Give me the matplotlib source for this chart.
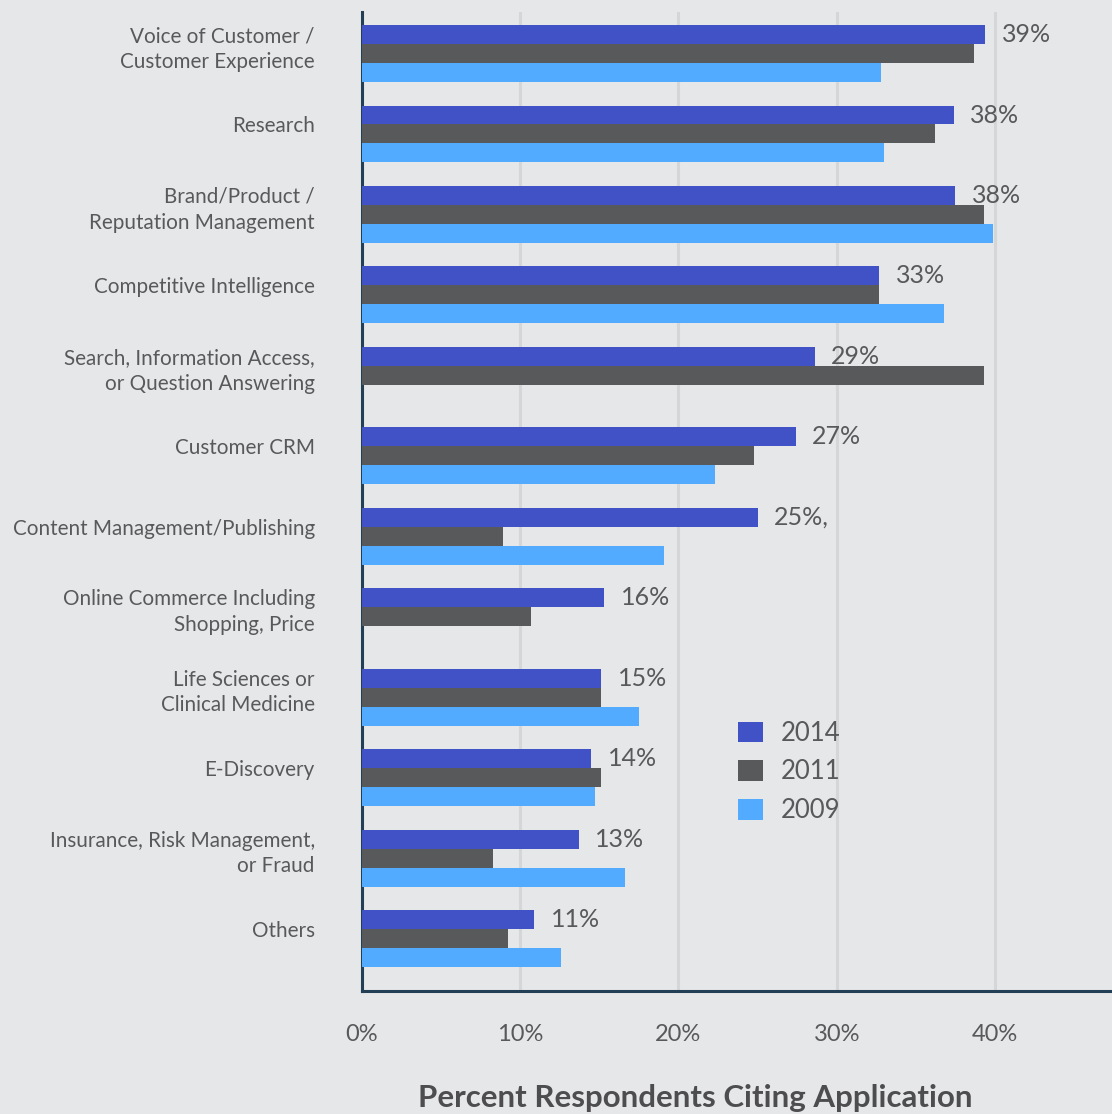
import numpy as np
import matplotlib.pyplot as plt
from matplotlib.patches import Patch

# ---- dados ----
categorias = [
    "Voice of Customer /\nCustomer Experience",
    "Research",
    "Brand/Product /\nReputation Management",
    "Competitive Intelligence",
    "Search, Information Access,\nor Question Answering",
    "Customer CRM",
    "Content Management/Publishing",
    "Online Commerce Including\nShopping, Price",
    "Life Sciences or\nClinical Medicine",
    "E-Discovery",
    "Insurance, Risk Management,\nor Fraud",
    "Others",
]
v2014 = [39.4, 37.4, 37.5, 32.7, 28.6, 27.4, 25.0, 15.3, 15.1, 14.5, 13.7, 10.9]
v2011 = [38.7, 36.2, 39.3, 32.7, 39.3, 24.8, 8.9, 10.7, 15.1, 15.1, 8.3, 9.2]
v2009 = [32.8, 33.0, 39.9, 36.8, np.nan, 22.3, 19.1, np.nan, 17.5, 14.7, 16.6, 12.6]
rotulos = ["39%", "38%", "38%", "33%", "29%", "27%", "25%,", "16%", "15%", "14%", "13%", "11%"]
anos = ["2014", "2011", "2009"]
x_ticks = [0, 10, 20, 30, 40]

# ---- estilo ----
cores = ["#4052C6", "#58595B", "#52ABFE"]
fundo = "#E6E7E9"
texto = "#58595B"
plt.rcParams['font.family'] = ['Lato', 'DejaVu Sans']

W, H = 1112, 1114
fig = plt.figure(figsize=(W / 100, H / 100), dpi=100, facecolor=fundo)
ax = fig.add_axes([362 / W, 1 - 991 / H, 1 - 362 / W, (991 - 12) / H])
ax.set_facecolor(fundo)

y = np.arange(len(categorias))
h = 0.236
for serie, cor, off in zip([v2014, v2011, v2009], cores, [-h, 0, h]):
    ax.barh(y + off, serie, height=h, color=cor, zorder=3)

# rótulos de valor na barra de 2014
for yi, val, txt in zip(y, v2014, rotulos):
    ax.annotate(txt, (val, yi - h), xytext=(12, 0), textcoords='offset points',
                va='center', ha='left', fontsize=18, color=texto)

ax.set_xlim(0, 47.4)
ax.set_ylim(11.65, -0.516)

ax.set_yticks(y - h / 2)
ax.set_yticklabels(categorias, fontsize=14.9, color=texto)
for lbl in ax.get_yticklabels():
    lbl.set_linespacing(1.35)
ax.tick_params(axis='y', length=0, pad=34)

ax.set_xticks(x_ticks)
ax.set_xticklabels([f"{t}%" for t in x_ticks], fontsize=17, color=texto)
ax.tick_params(axis='x', length=0, pad=24)

ax.grid(axis='x', color='#D5D6D8', linewidth=2.2, zorder=0)
for s in ['top', 'right']:
    ax.spines[s].set_visible(False)
for s in ['left', 'bottom']:
    ax.spines[s].set_color('#233F55')
    ax.spines[s].set_linewidth(2.2)

handles = [Patch(facecolor=c, edgecolor='none') for c in cores]
ax.legend(handles, anos, loc='upper left', bbox_to_anchor=(725 / W, 1 - 708 / H),
          bbox_transform=fig.transFigure, frameon=False, fontsize=18.5,
          handlelength=0.97, handleheight=0.86, handletextpad=0.7,
          labelspacing=0.53, borderpad=0, labelcolor=texto)

fig.text(695 / W, 1 - 1098 / H, "Percent Respondents Citing Application",
         ha='center', va='center', fontsize=22.5, fontweight='bold', color='#4D4D4F')

fig.savefig("out.png", dpi=100, facecolor=fundo)
